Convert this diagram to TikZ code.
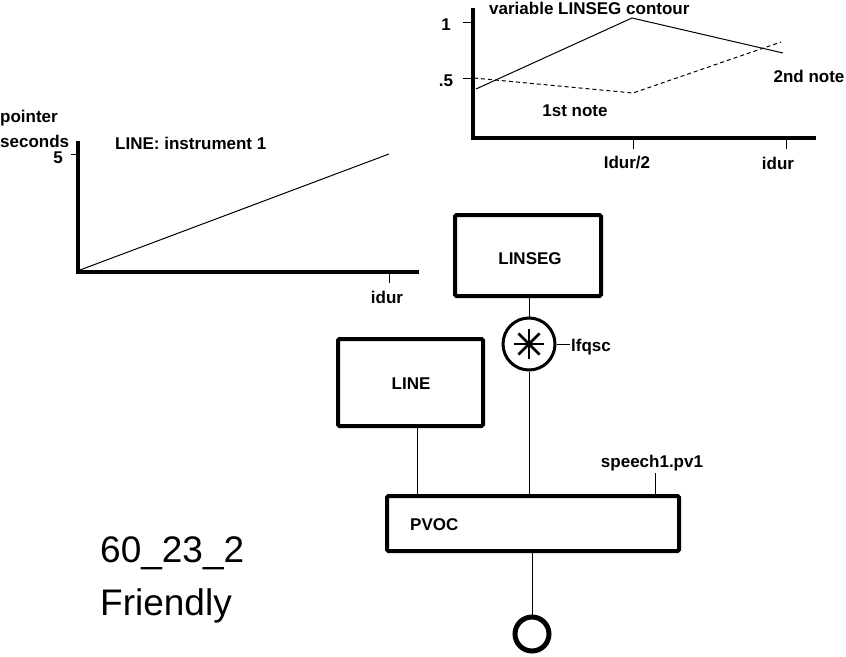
\documentclass[tikz,border=0pt]{standalone}
\usepackage{fontspec}
\setmainfont{Liberation Sans}
\usetikzlibrary{calc}
\begin{document}
\begin{tikzpicture}[x=1pt,y=-1pt,
  lbl/.style={font=\fontsize{17}{19}\selectfont\bfseries, inner sep=0pt},
  big/.style={font=\fontsize{37}{40}\selectfont, inner sep=0pt, anchor=west},
  axis/.style={line width=4pt},
  thin/.style={line width=1pt},
  box/.style={draw, line width=4pt, rounded corners=1.5pt, rectangle, inner sep=0pt},
  ring/.style={draw, circle, inner sep=0pt}]
\useasboundingbox (0,0) rectangle (846,656);
% ---- top-right graph (LINSEG contour)
\draw[axis] (473,8) -- (473,138) -- (816,138);
\draw[thin] (463,22) -- (473,22);
\draw[thin] (463,78) -- (473,78);
\draw[thin] (633,138) -- (633,149);
\draw[thin] (786,138) -- (786,149);
\node[lbl] (g1one) at (446,25) {1};
\node[lbl] (g1half) at (446,81) {.5};
\node[lbl] (g1x1) at (627,163) {Idur/2};
\node[lbl] (g1x2) at (778,163) {idur};
\node[lbl, anchor=west] (g1title) at (489,8) {variable LINSEG contour};
\node[lbl] (g1n1) at (575,111) {1st note};
\node[lbl] (g1n2) at (809,76) {2nd note};
\draw[thin] (476,89) -- (632,18) -- (783,53);
\draw[thin, dashed, dash pattern=on 4pt off 3pt] (474,78) -- (633,93) -- (781,42);
% ---- left graph (LINE)
\draw[axis] (78,141) -- (78,272) -- (419,272);
\draw[thin] (71,154) -- (78,154);
\draw[thin] (389,272) -- (389,283);
\draw[thin] (80,270) -- (389,154);
\node[lbl, anchor=west] (g2p) at (0,118) {pointer};
\node[lbl, anchor=west] (g2s) at (0,141) {seconds};
\node[lbl] (g2five) at (58,158) {5};
\node[lbl, anchor=west] (g2t) at (115,143) {LINE: instrument 1};
\node[lbl] (g2x) at (387,297) {idur};
% ---- blocks
\node[box, minimum width=146, minimum height=81] (linseg) at (528,255.5) {};
\node[lbl] at (530,259) {LINSEG};
\node[ring, line width=3pt, minimum size=52] (mul) at (529,344) {};
\foreach \a in {0,45,90,135}
  \draw[line width=2.6pt] ($(mul.center)+(\a:15)$) -- ($(mul.center)+(\a+180:15)$);
\coordinate (lfq) at (570,344);
\node[lbl, anchor=west] (lfqlbl) at (571,347) {lfqsc};
\node[box, minimum width=145, minimum height=87] (line) at (410.5,382.5) {};
\node[lbl] at (411,384) {LINE};
\node[box, minimum width=292, minimum height=55] (pvoc) at (533,523.5) {};
\node[lbl, anchor=west] at (410,525) {PVOC};
\node[ring, line width=5pt, minimum size=34] (out) at (532,634) {};
\node[lbl] (sp) at (652,463) {speech1.pv1};
% ---- connectors
\draw[thin] (linseg.south -| mul.north) -- (mul.north);
\draw[thin] (mul.east) -- (lfq);
\draw[thin] (mul.south) -- (mul.south |- pvoc.north);
\draw[thin] ([xshift=6.5]line.south) -- ([xshift=6.5]line.south |- pvoc.north);
\draw[thin] (out.north |- pvoc.south) -- (out.north);
\draw[thin] ([xshift=3,yshift=-2]sp.south) -- ([xshift=3]sp.south |- pvoc.north);
% ---- title
\node[big] (t1) at (100,553) {60\_23\_2};
\node[big] (t2) at (100,606) {Friendly};
\end{tikzpicture}
\end{document}
